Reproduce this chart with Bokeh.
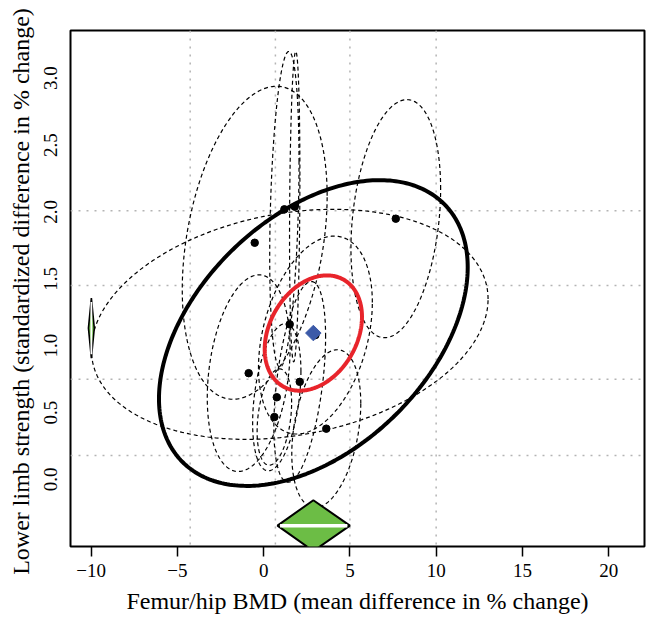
import numpy as np
from bokeh.plotting import figure
from bokeh.models import FixedTicker, Span
from bokeh.embed import file_html
from bokeh.resources import INLINE

# ---- data ----
# individual study estimates (x: femur/hip BMD, y: lower limb strength)
study_x = [1.20, 1.80, -0.52, 1.51, 7.66, -0.87, 2.09, 0.76, 0.62, 3.63, 3.00]
study_y = [2.02, 2.04, 1.77, 1.16, 1.95, 0.795, 0.73, 0.615, 0.467, 0.38, 1.08]
# study confidence ellipses: half-extent in x, half-extent in y, correlation
study_ax = [0.85, 0.30, 4.20, 11.50, 2.60, 2.40, 1.50, 1.40, 1.00, 2.00, 3.30]
study_ay = [1.18, 1.16, 1.17, 0.86, 0.89, 0.735, 0.75, 0.55, 0.36, 0.59, 0.74]
study_rho = [0.30, 0.20, 0.30, 0.22, 0.25, 0.25, 0.45, 0.35, 0.30, 0.32, 0.33]

# pooled summary
summary_x = 2.88
summary_y = 1.095
conf_ax, conf_ay, conf_rho = 2.82, 0.431, 0.28     # confidence region (red)
pred_ax, pred_ay, pred_rho = 8.95, 1.143, 0.43     # prediction region (black)
x_ci = [0.80, 5.00]      # marginal CI of x (green diamond)
y_ci = [0.907, 1.357]    # marginal CI of y (left diamond)

# dotted reference lines
ref_x = [-4.26, 0.68, 5.0, 10.0]
ref_y = [0.18, 0.75, 1.45, 2.01]

x_ticks = [-10, -5, 0, 5, 10, 15, 20]
x_tick_labels = ["\u221210", "\u22125", "0", "5", "10", "15", "20"]
y_ticks = [0.0, 0.5, 1.0, 1.5, 2.0, 2.5, 3.0]
y_tick_labels = ["0.0", "0.5", "1.0", "1.5", "2.0", "2.5", "3.0"]

x_title = "Femur/hip BMD (mean difference in % change)"
y_title = "Lower limb strength (standardized difference in  % change)"


def ellipse(cx, cy, ax, ay, rho, n=300):
    t = np.linspace(0, 2 * np.pi, n)
    xs = cx + ax * np.cos(t)
    ys = cy + ay * (rho * np.cos(t) + np.sqrt(1 - rho ** 2) * np.sin(t))
    return xs, ys


SERIF = "Liberation Serif"

p = figure(width=646, height=621, x_range=(-11.2, 22.08), y_range=(-0.501, 3.357),
           output_backend="svg", toolbar_location=None,
           min_border_left=70, min_border_right=2, min_border_top=30, min_border_bottom=75)
p.background_fill_color = "white"
p.border_fill_color = "white"
p.outline_line_color = "black"
p.outline_line_width = 2
p.xgrid.visible = False
p.ygrid.visible = False

# axes
p.xaxis.ticker = FixedTicker(ticks=x_ticks)
p.xaxis.major_label_overrides = {k: v for k, v in zip(x_ticks, x_tick_labels)}
p.yaxis.ticker = FixedTicker(ticks=y_ticks)
p.yaxis.major_label_overrides = {k: v for k, v in zip(y_ticks, y_tick_labels)}
for ax in (p.xaxis, p.yaxis):
    ax.axis_line_color = None
    ax.minor_tick_line_color = None
    ax.major_label_text_font = SERIF
    ax.major_label_text_font_size = "19px"
    ax.major_label_text_color = "black"
    ax.axis_label_text_font = SERIF
    ax.axis_label_text_font_size = "24px"
    ax.axis_label_text_font_style = "normal"
    ax.axis_label_text_color = "black"
p.xaxis.major_tick_out = 10
p.xaxis.major_tick_in = 0
p.xaxis.major_tick_line_width = 1.5
p.xaxis.major_tick_line_color = "black"
p.xaxis.major_label_standoff = 7
p.xaxis.axis_label_standoff = 8
p.xaxis.axis_label = x_title
p.yaxis.major_tick_line_color = None
p.yaxis.major_tick_out = 0
p.yaxis.major_tick_in = 0
p.yaxis.major_label_orientation = "parallel"
p.yaxis.major_label_standoff = 13
p.yaxis.axis_label_standoff = 8
p.yaxis.axis_label = y_title

# dotted reference lines
for v in ref_x:
    p.add_layout(Span(location=v, dimension="height", line_color="#b4b4b4",
                      line_width=1.5, line_dash="2 6", level="underlay"))
for v in ref_y:
    p.add_layout(Span(location=v, dimension="width", line_color="#b4b4b4",
                      line_width=1.5, line_dash="2 6", level="underlay"))

# study ellipses
exs, eys = [], []
for cx, cy, a, b, r in zip(study_x, study_y, study_ax, study_ay, study_rho):
    ex, ey = ellipse(cx, cy, a, b, r)
    exs.append(ex)
    eys.append(ey)
p.multi_line(exs, eys, line_color="black", line_width=1.2, line_dash="4 3")

# study points
p.scatter(study_x, study_y, size=7.5, fill_color="black", line_color="black")

# prediction region
px_, py_ = ellipse(summary_x, summary_y, pred_ax, pred_ay, pred_rho)
p.line(px_, py_, line_color="black", line_width=4)

# confidence region
cx_, cy_ = ellipse(summary_x, summary_y, conf_ax, conf_ay, conf_rho)
p.line(cx_, cy_, line_color="#E8242B", line_width=4)

# pooled estimate
p.scatter([summary_x], [summary_y], marker="square", angle=np.pi / 4, size=11,
          fill_color="#3C5AA8", line_color="#3C5AA8")

# marginal summary for x (green diamond at bottom)
d_y, d_h = -0.345, 0.19
p.patch([x_ci[0], summary_x, x_ci[1], summary_x], [d_y, d_y + d_h, d_y, d_y - d_h],
        fill_color="#6CBD45", line_color="black", line_width=2)
p.line([x_ci[0] + 0.15, x_ci[1] - 0.15], [d_y, d_y], line_color="white", line_width=3.5)

# marginal summary for y (thin diamond at left)
y_mid = (y_ci[0] + y_ci[1]) / 2
d_x, d_w = -9.99, 0.17
p.patch([d_x, d_x + d_w, d_x, d_x - d_w], [y_ci[0], y_mid, y_ci[1], y_mid],
        fill_color="#6CBD45", line_color="black", line_width=1.6)
p.line([d_x, d_x], [y_ci[0] + 0.03, y_ci[1] - 0.03], line_color="white", line_width=1.8)

open("out.html", "w").write(file_html(p, INLINE))
